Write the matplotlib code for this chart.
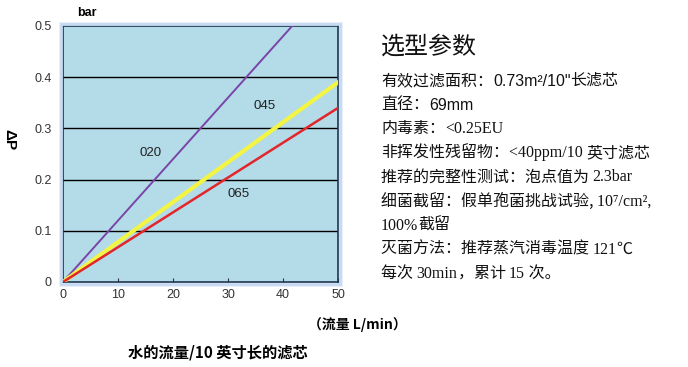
import matplotlib
matplotlib.use('Agg')
from matplotlib import pyplot as plt
from matplotlib.patches import Rectangle

plt.rcParams['font.family'] = ['Liberation Sans', 'Noto Sans CJK SC', 'DejaVu Sans']

# data
flow = [0, 50]
dp_020 = [0, 0.60]
dp_045 = [0, 0.39]
dp_065 = [0, 0.34]
x_ticks = [0, 10, 20, 30, 40, 50]
y_ticks = [0, 0.1, 0.2, 0.3, 0.4, 0.5]
y_ticklabels = ['0', '0.1', '0.2', '0.3', '0.4', '0.5']

CJK = ['Noto Sans CJK SC', 'DejaVu Sans']
SANS = ['Liberation Sans', 'Noto Sans CJK SC', 'DejaVu Sans']
SERIF = ['Liberation Serif', 'DejaVu Serif', 'Noto Sans CJK SC']

spec_title = '选型参数'
spec_lines = [
    [('有效过滤面积：', CJK), ('0.73m²/10"', SANS), ('长滤芯', CJK)],
    [('直径：', CJK), ('69mm', SANS)],
    [('内毒素：', CJK), ('<0.25EU', SERIF)],
    [('非挥发性残留物：', CJK), ('<40ppm/10 ', SERIF), ('英寸滤芯', CJK)],
    [('推荐的完整性测试：泡点值为 ', CJK), ('2.3bar', SERIF)],
    [('细菌截留：假单孢菌挑战试验, ', CJK), ('10⁷/cm², ', SERIF)],
    [('100%', SERIF), ('截留', CJK)],
    [('灭菌方法：推荐蒸汽消毒温度 ', CJK), ('121', SERIF), ('℃', CJK)],
    [('每次 ', CJK), ('30min', SERIF), ('，累计 ', CJK), ('15', SERIF), (' 次。', CJK)],
]

fig = plt.figure(figsize=(6.88, 3.67), dpi=100)
W, H = 688.0, 367.0

ax = fig.add_axes([63 / W, 1 - 282 / H, 275 / W, 256 / H])
ax.set_facecolor('#b3dbe8')

# soft blue glow round the frame
for pad, col, lw in [(3, '#e3eefa', 2), (2, '#c6daf2', 2)]:
    glow = Rectangle(((63 - pad) / W, 1 - (282 + pad) / H), (275 + 2 * pad) / W,
                     (256 + 2 * pad) / H, transform=fig.transFigure,
                     facecolor='none', edgecolor=col, linewidth=lw, zorder=0)
    fig.patches.append(glow)

ax.plot(flow, dp_020, color='#7a45a8', lw=1.4, zorder=3)
ax.plot(flow, dp_045, color='#f4f542', lw=3, zorder=3)
ax.plot(flow, dp_065, color='#e2262a', lw=1.8, zorder=4)

ax.text(16, 0.252, '020', fontsize=9.5, color='#222222', ha='center', va='center')
ax.text(36.7, 0.344, '045', fontsize=9.5, color='#222222', ha='center', va='center')
ax.text(32, 0.172, '065', fontsize=9.5, color='#222222', ha='center', va='center')

ax.set_xlim(0, 50)
ax.set_ylim(0, 0.5)
ax.set_xticks(x_ticks)
ax.set_yticks(y_ticks)
ax.set_yticklabels(y_ticklabels)
for y in y_ticks[1:-1]:
    ax.axhline(y, color='black', lw=1, zorder=2)
ax.tick_params(axis='x', direction='in', length=3, color='#333333', labelsize=9,
               labelcolor='#333333', pad=5)
ax.tick_params(axis='y', length=0, labelsize=9, labelcolor='#333333', pad=8)
for s in ax.spines.values():
    s.set_color('#1f3550')
    s.set_linewidth(1.2)

fig.text(87 / W, 1 - 13 / H, 'bar', fontsize=9, fontweight='bold', ha='center', va='center')
fig.text(9 / W, 1 - 140 / H, 'ΔP', fontsize=11, fontweight='bold', rotation=270,
         ha='center', va='center')
fig.text(357 / W, 1 - 325 / H, '（流量 L/min）', fontsize=10, fontweight='bold',
         ha='center', va='center', family=CJK)
fig.text(218 / W, 1 - 353 / H, '水的流量/10 英寸长的滤芯', fontsize=11, fontweight='bold',
         ha='center', va='center', family=CJK)

# specification block on the right
fig.text(381 / W, 1 - 47 / H, spec_title, fontsize=17.3, family=CJK, va='center',
         color='#111111')
y0 = 80
for i, segs in enumerate(spec_lines):
    y = y0 + i * 24.1
    prev = None
    for txt, fam in segs:
        if prev is None:
            prev = fig.text(381 / W, 1 - (y + 5) / H, txt, fontsize=11.5, family=fam,
                            va='baseline', color='#111111')
        else:
            prev = ax.annotate(txt, xy=(1, 0), xycoords=prev, xytext=(0, 0),
                               textcoords='offset points', fontsize=11.5, family=fam,
                               va='bottom', ha='left', color='#111111',
                               annotation_clip=False)

fig.savefig('out.png', dpi=100)
